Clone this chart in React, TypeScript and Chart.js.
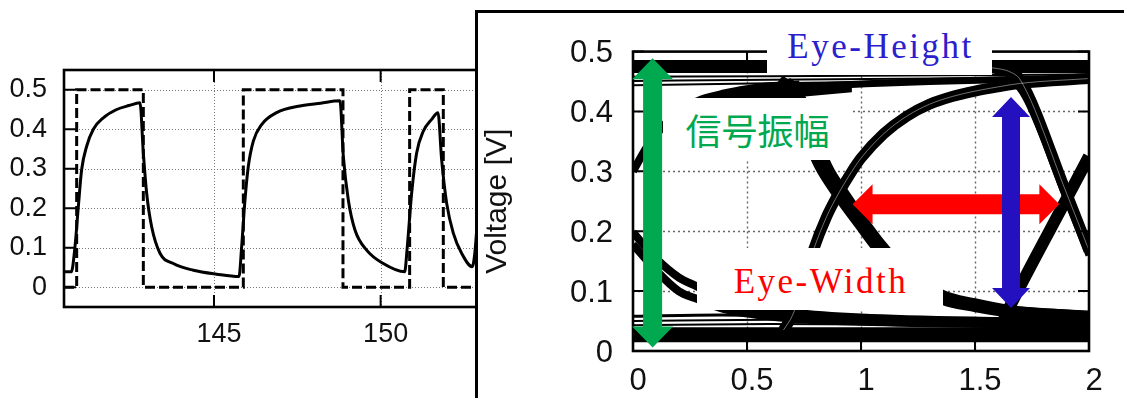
import React, { useEffect, useRef } from 'react';
import { Chart, registerables } from 'chart.js';

Chart.register(...registerables);

type P = [number, number];

// ---------------- Left chart: input (dashed) and response (solid) ----------------
const leftXTicks = [145, 150];
const leftYTicks = [0, 0.1, 0.2, 0.3, 0.4, 0.5];

const inputTime = [140.5, 140.88, 140.88, 142.88, 142.88, 145.88, 145.88, 148.87, 148.87, 150.87, 150.87, 151.88, 151.88, 152.88, 152.88, 153.5];
const inputVolt = [0, 0, 0.5, 0.5, 0, 0, 0.5, 0.5, 0, 0, 0.5, 0.5, 0, 0, 0.5, 0.5];

const outputTime = [
  140.5, 140.72, 140.83, 140.93, 141.03, 141.18, 141.38, 141.68, 142.08, 142.45, 142.78,
  142.88, 142.98, 143.13, 143.38, 143.78, 144.38, 145.08, 145.75,
  145.83, 145.93, 146.03, 146.18, 146.43, 146.88, 147.58, 148.2, 148.78,
  148.88, 149.03, 149.23, 149.58, 150.08, 150.72,
  150.8, 150.93, 151.08, 151.28, 151.53, 151.72,
  151.83, 151.98, 152.18, 152.43, 152.75,
  152.83, 152.93, 153.05, 153.2, 153.5,
];
const outputVolt = [
  0.039, 0.039, 0.103, 0.204, 0.298, 0.357, 0.4, 0.429, 0.45, 0.46, 0.467,
  0.34, 0.238, 0.153, 0.086, 0.06, 0.043, 0.033, 0.027,
  0.103, 0.221, 0.306, 0.37, 0.412, 0.442, 0.459, 0.466, 0.472,
  0.332, 0.221, 0.145, 0.094, 0.06, 0.039,
  0.103, 0.238, 0.34, 0.395, 0.425, 0.442,
  0.323, 0.213, 0.137, 0.086, 0.052,
  0.09, 0.2, 0.3, 0.36, 0.42,
];

// ---------------- Right chart: eye diagram ----------------
const eyeXTicks = [0, 0.5, 1, 1.5, 2];
const eyeYTicks = [0, 0.1, 0.2, 0.3, 0.4, 0.5];
const eyeXGrid = [0.5, 1, 1.5];
const eyeYGrid = [0.1, 0.2, 0.3, 0.4];

const eyeHighBand: P[] = [[0, 0.475], [2, 0.475]];
const eyeHighLine1: P[] = [[0, 0.458], [0.6, 0.459], [1.6, 0.461], [2, 0.462]];
const eyeHighLine2: P[] = [[0, 0.451], [0.6, 0.453], [1.6, 0.456], [2, 0.457]];
const eyeHighLine3: P[] = [[0, 0.444], [0.6, 0.447], [1.6, 0.452], [2, 0.454]];
const eyeHighSettle: P[] = [[0.55, 0.441], [0.73, 0.442], [1.0, 0.446], [1.3, 0.45], [1.6, 0.453], [2, 0.456]];
const eyeRiseWrap: P[] = [[0, 0.3], [0.06, 0.34], [0.12, 0.37], [0.17, 0.39], [0.22, 0.405], [0.3, 0.42], [0.4, 0.43], [0.5, 0.437], [0.6, 0.442], [0.73, 0.445]];
const eyeHighWedge: P[] = [[0.21, 0.398], [0.22, 0.409], [0.3, 0.423], [0.4, 0.432], [0.5, 0.438], [0.6, 0.443], [0.73, 0.446], [0.96, 0.45], [0.96, 0.432], [0.73, 0.424], [0.7, 0.398]];
const eyeRiseMain: P[] = [[0.66, 0.035], [0.7, 0.06], [0.745, 0.11], [0.79, 0.167], [0.85, 0.225], [0.9, 0.262], [0.96, 0.3], [1.0, 0.322], [1.1, 0.363], [1.2, 0.392], [1.3, 0.412], [1.4, 0.425], [1.5, 0.434], [1.6, 0.441], [1.7, 0.447], [2.0, 0.455]];
const eyeFallMain: P[] = [[0.64, 0.452], [0.68, 0.44], [0.72, 0.41], [0.78, 0.345], [0.82, 0.31], [0.9, 0.262], [1.0, 0.21], [1.075, 0.172], [1.2, 0.122], [1.36, 0.087], [1.5, 0.075], [1.65, 0.066], [2.0, 0.057]];
const eyeFallAlt: P[] = [[0.68, 0.452], [0.72, 0.44], [0.76, 0.41], [0.86, 0.31], [0.94, 0.262], [1.1, 0.178], [1.2, 0.137], [1.36, 0.097], [1.5, 0.083], [1.65, 0.072], [2.0, 0.062]];
const eyeFallEdge: P[] = [[1.56, 0.474], [1.66, 0.465], [1.7, 0.452], [1.9, 0.265], [2.0, 0.168]];
const eyeFallEdge2: P[] = [[1.6, 0.442], [1.67, 0.446], [1.72, 0.425], [1.9, 0.256], [2.0, 0.16]];
const eyeRiseEdge: P[] = [[1.56, 0.03], [1.62, 0.048], [1.65, 0.072], [1.91, 0.26], [2.0, 0.325]];
const eyeDecayA: P[] = [[0, 0.198], [0.1, 0.155], [0.2, 0.123], [0.28, 0.108], [0.4, 0.085], [0.55, 0.072], [0.7, 0.064], [1.0, 0.056], [1.6, 0.05], [2, 0.048]];
const eyeDecayB: P[] = [[0, 0.178], [0.1, 0.135], [0.2, 0.1], [0.28, 0.087], [0.4, 0.07], [0.55, 0.06], [0.7, 0.054], [1.0, 0.049], [1.6, 0.045], [2, 0.044]];
const eyeLowBand: P[] = [[0, 0.027], [2, 0.027]];
const eyeLowLine1: P[] = [[0, 0.043], [0.6, 0.045], [1.6, 0.043], [2, 0.042]];
const eyeLowLine2: P[] = [[0, 0.05], [0.6, 0.052], [1.6, 0.048], [2, 0.047]];
const eyeLowLine3: P[] = [[0, 0.058], [0.38, 0.06], [0.73, 0.058], [1.2, 0.052], [1.65, 0.047], [2, 0.046]];

// annotation arrows (data coordinates: start, end)
const amplitudeArrow: P[] = [[0.086, 0.489], [0.086, 0.006]];
const eyeWidthArrow: P[] = [[0.963, 0.245], [1.87, 0.245]];
const eyeHeightArrow: P[] = [[1.658, 0.424], [1.658, 0.072]];

// ---------------- styling tables ----------------
const eyeTraceStyle: { pts: P[]; w: number; hair?: boolean }[] = [
  { pts: eyeHighBand, w: 13 },
  { pts: eyeHighLine1, w: 2 },
  { pts: eyeHighLine2, w: 2 },
  { pts: eyeHighLine3, w: 2 },
  { pts: eyeHighSettle, w: 7 },
  { pts: eyeRiseWrap, w: 8 },
  { pts: eyeRiseMain, w: 11, hair: true },
  { pts: eyeFallMain, w: 12 },
  { pts: eyeFallAlt, w: 6 },
  { pts: eyeFallEdge, w: 11, hair: true },
  { pts: eyeFallEdge2, w: 7 },
  { pts: eyeRiseEdge, w: 12 },
  { pts: eyeDecayA, w: 8 },
  { pts: eyeDecayB, w: 8 },
  { pts: eyeLowBand, w: 15 },
  { pts: eyeLowLine1, w: 2 },
  { pts: eyeLowLine2, w: 2 },
  { pts: eyeLowLine3, w: 3 },
];

const arrowStyle = [
  { pts: amplitudeArrow, color: '#00A84F', shaft: 19, headW: 41, headL: 21 },
  { pts: eyeWidthArrow, color: '#FF0000', shaft: 20, headW: 40, headL: 20 },
  { pts: eyeHeightArrow, color: '#2410BE', shaft: 18, headW: 38, headL: 20 },
];

const FONT = "'Liberation Sans', Arial, Helvetica, sans-serif";

const zip = (xs: number[], ys: number[]) => xs.map((x, i) => ({ x, y: ys[i] }));
const toXY = (pts: P[]) => pts.map(([x, y]) => ({ x, y }));

function drawArrow(ctx: CanvasRenderingContext2D, x1: number, y1: number, x2: number, y2: number, shaft: number, headW: number, headL: number, color: string) {
  const dx = x2 - x1;
  const dy = y2 - y1;
  const len = Math.hypot(dx, dy);
  const ux = dx / len;
  const uy = dy / len;
  const nx = -uy;
  const ny = ux;
  const s = shaft / 2;
  const h = headW / 2;
  const pts: P[] = [
    [x1, y1],
    [x1 + ux * headL + nx * h, y1 + uy * headL + ny * h],
    [x1 + ux * headL + nx * s, y1 + uy * headL + ny * s],
    [x2 - ux * headL + nx * s, y2 - uy * headL + ny * s],
    [x2 - ux * headL + nx * h, y2 - uy * headL + ny * h],
    [x2, y2],
    [x2 - ux * headL - nx * h, y2 - uy * headL - ny * h],
    [x2 - ux * headL - nx * s, y2 - uy * headL - ny * s],
    [x1 + ux * headL - nx * s, y1 + uy * headL - ny * s],
    [x1 + ux * headL - nx * h, y1 + uy * headL - ny * h],
  ];
  ctx.fillStyle = color;
  ctx.beginPath();
  pts.forEach(([x, y], i) => (i ? ctx.lineTo(x, y) : ctx.moveTo(x, y)));
  ctx.closePath();
  ctx.fill();
}

type DecorOpts = {
  xGrid: number[];
  yGrid: number[];
  xTicks: number[];
  yTicks: number[];
  gridColor: string;
  gridDash: number[];
  gridWidth: number;
  tickLen: number;
  frameWidth: number;
  fills?: P[][];
  arrows?: typeof arrowStyle;
};

function makeDecor(o: DecorOpts) {
  return {
    id: 'decor',
    beforeDatasetsDraw(chart: any) {
      const { ctx, chartArea: a, scales } = chart;
      const xs = scales.x;
      const ys = scales.y;
      ctx.save();
      ctx.strokeStyle = o.gridColor;
      ctx.lineWidth = o.gridWidth;
      ctx.setLineDash(o.gridDash);
      ctx.beginPath();
      o.xGrid.forEach((v) => {
        const px = Math.round(xs.getPixelForValue(v)) + 0.5;
        ctx.moveTo(px, a.top);
        ctx.lineTo(px, a.bottom);
      });
      o.yGrid.forEach((v) => {
        const py = Math.round(ys.getPixelForValue(v)) + 0.5;
        ctx.moveTo(a.left, py);
        ctx.lineTo(a.right, py);
      });
      ctx.stroke();
      ctx.setLineDash([]);
      (o.fills || []).forEach((poly) => {
        ctx.fillStyle = '#000';
        ctx.beginPath();
        poly.forEach(([x, y], i) => {
          const px = xs.getPixelForValue(x);
          const py = ys.getPixelForValue(y);
          if (i) ctx.lineTo(px, py);
          else ctx.moveTo(px, py);
        });
        ctx.closePath();
        ctx.fill();
      });
      ctx.restore();
    },
    afterDatasetsDraw(chart: any) {
      const { ctx, chartArea: a, scales } = chart;
      const xs = scales.x;
      const ys = scales.y;
      ctx.save();
      ctx.strokeStyle = '#000';
      ctx.lineWidth = o.frameWidth;
      ctx.setLineDash([]);
      ctx.strokeRect(a.left, a.top, a.right - a.left, a.bottom - a.top);
      ctx.lineWidth = 2;
      ctx.beginPath();
      o.xTicks.forEach((v) => {
        const px = xs.getPixelForValue(v);
        ctx.moveTo(px, a.bottom);
        ctx.lineTo(px, a.bottom - o.tickLen);
        ctx.moveTo(px, a.top);
        ctx.lineTo(px, a.top + o.tickLen);
      });
      o.yTicks.forEach((v) => {
        const py = ys.getPixelForValue(v);
        ctx.moveTo(a.left, py);
        ctx.lineTo(a.left + o.tickLen, py);
        ctx.moveTo(a.right, py);
        ctx.lineTo(a.right - o.tickLen, py);
      });
      ctx.stroke();
      (o.arrows || []).forEach((ar) => {
        const [[x1, y1], [x2, y2]] = ar.pts;
        drawArrow(ctx, xs.getPixelForValue(x1), ys.getPixelForValue(y1), xs.getPixelForValue(x2), ys.getPixelForValue(y2), ar.shaft, ar.headW, ar.headL, ar.color);
      });
      ctx.restore();
    },
  };
}

function leftConfig(): any {
  return {
    type: 'line',
    data: {
      datasets: [
        { data: zip(outputTime, outputVolt), borderColor: '#000', borderWidth: 3, pointRadius: 0, cubicInterpolationMode: 'monotone', borderJoinStyle: 'round' },
        { data: zip(inputTime, inputVolt), borderColor: '#000', borderWidth: 3, borderDash: [10, 4], pointRadius: 0, tension: 0 },
      ],
    },
    options: {
      animation: false,
      responsive: false,
      events: [],
      layout: { padding: { left: 0, top: 70, right: 22.7, bottom: 0 } },
      plugins: { legend: { display: false }, tooltip: { enabled: false } },
      scales: {
        x: {
          type: 'linear',
          min: 140.5,
          max: 153.5,
          afterBuildTicks: (s: any) => { s.ticks = leftXTicks.map((v) => ({ value: v })); },
          afterFit: (s: any) => { s.height = 91; },
          grid: { display: false, drawTicks: false },
          border: { display: false },
          ticks: { padding: 11, labelOffset: 5, font: { size: 27, family: FONT }, color: '#111', maxRotation: 0, autoSkip: false, callback: (v: number) => String(v) },
        },
        y: {
          type: 'linear',
          min: -0.05,
          max: 0.55,
          afterBuildTicks: (s: any) => { s.ticks = leftYTicks.map((v) => ({ value: v })); },
          afterFit: (s: any) => { s.width = 64; },
          grid: { display: false, drawTicks: false },
          border: { display: false },
          ticks: { padding: 17, font: { size: 27, family: FONT }, color: '#111', autoSkip: false, callback: (v: number) => String(v) },
        },
      },
    },
    plugins: [
      makeDecor({ xGrid: leftXTicks, yGrid: leftYTicks, xTicks: leftXTicks, yTicks: leftYTicks, gridColor: '#777', gridDash: [1, 2], gridWidth: 1, tickLen: 12, frameWidth: 2.6 }),
    ],
  };
}

function rightConfig(): any {
  const black = eyeTraceStyle.map((t) => ({
    data: toXY(t.pts),
    borderColor: '#000',
    borderWidth: t.w,
    pointRadius: 0,
    cubicInterpolationMode: 'monotone',
    borderJoinStyle: 'round',
    borderCapStyle: 'butt',
    order: 1,
  }));
  const hairs = eyeTraceStyle.filter((t) => t.hair).map((t) => ({
    data: toXY(t.pts),
    borderColor: 'rgba(255,255,255,0.55)',
    borderWidth: 0.8,
    pointRadius: 0,
    cubicInterpolationMode: 'monotone',
    borderCapStyle: 'butt',
    order: 0,
  }));
  return {
    type: 'line',
    data: { datasets: [...black, ...hairs] },
    options: {
      animation: false,
      responsive: false,
      events: [],
      layout: { padding: { left: 0, top: 30, right: 35, bottom: 0 } },
      plugins: { legend: { display: false }, tooltip: { enabled: false } },
      scales: {
        x: {
          type: 'linear',
          min: 0,
          max: 2,
          afterBuildTicks: (s: any) => { s.ticks = eyeXTicks.map((v) => ({ value: v })); },
          afterFit: (s: any) => { s.height = 47; },
          grid: { display: false, drawTicks: false },
          border: { display: false },
          ticks: { padding: 12, labelOffset: 5, font: { size: 31, family: FONT }, color: '#111', maxRotation: 0, autoSkip: false, callback: (v: number) => String(v) },
        },
        y: {
          type: 'linear',
          min: 0,
          max: 0.5,
          afterBuildTicks: (s: any) => { s.ticks = eyeYTicks.map((v) => ({ value: v })); },
          afterFit: (s: any) => { s.width = 155; },
          grid: { display: false, drawTicks: false },
          border: { display: false },
          title: { display: true, text: 'Voltage [V]', font: { size: 30, family: FONT }, color: '#111', padding: { top: 2, bottom: 0 } },
          ticks: { padding: 20, labelOffset: 2, font: { size: 31, family: FONT }, color: '#111', autoSkip: false, callback: (v: number) => String(v) },
        },
      },
    },
    plugins: [
      makeDecor({ xGrid: eyeXGrid, yGrid: eyeYGrid, xTicks: eyeXTicks, yTicks: eyeYTicks, gridColor: '#666', gridDash: [2, 3], gridWidth: 1.4, tickLen: 11, frameWidth: 2.6, fills: [eyeHighWedge], arrows: arrowStyle }),
    ],
  };
}

const labelBox: React.CSSProperties = {
  position: 'absolute',
  background: '#fff',
  display: 'flex',
  alignItems: 'center',
  justifyContent: 'center',
  overflow: 'visible',
};

export default function App() {
  const leftRef = useRef<HTMLCanvasElement>(null);
  const rightRef = useRef<HTMLCanvasElement>(null);

  useEffect(() => {
    const c1 = new Chart(leftRef.current as HTMLCanvasElement, leftConfig());
    const c2 = new Chart(rightRef.current as HTMLCanvasElement, rightConfig());
    return () => {
      c1.destroy();
      c2.destroy();
    };
  }, []);

  const serifText: React.CSSProperties = {
    fontFamily: "'Liberation Serif', 'Times New Roman', serif",
    fontSize: 35,
    lineHeight: 1,
    letterSpacing: 2.5,
    whiteSpace: 'nowrap',
    display: 'inline-block',
    position: 'relative',
    top: 2,
    left: 1,
  };

  return (
    <div style={{ position: 'fixed', left: 0, top: 0, width: 1124, height: 398, background: '#fff', overflow: 'hidden' }}>
      <div style={{ position: 'absolute', left: 0, top: 0, width: 520, height: 398 }}>
        <canvas ref={leftRef} width={520} height={398} style={{ display: 'block' }} />
      </div>
      <div style={{ position: 'absolute', left: 475, top: 10, width: 700, height: 450, borderLeft: '3px solid #000', borderTop: '3px solid #000', background: '#fff', boxSizing: 'border-box' }} />
      <div style={{ position: 'absolute', left: 478, top: 13, width: 646, height: 385 }}>
        <canvas ref={rightRef} width={646} height={385} style={{ display: 'block' }} />
      </div>
      <div style={{ ...labelBox, left: 767, top: 13, width: 225, height: 62 }}>
        <span style={{ ...serifText, color: '#2A20CC' }}>Eye-Height</span>
      </div>
      <div style={{ ...labelBox, left: 663, top: 98, width: 189, height: 62 }}>
        <span style={{ fontFamily: "'Noto Sans CJK JP', 'Noto Sans CJK SC', sans-serif", fontSize: 36, lineHeight: 1, color: '#00A84F', whiteSpace: 'nowrap' }}>信号振幅</span>
      </div>
      <div style={{ ...labelBox, left: 697, top: 248, width: 246, height: 62 }}>
        <span style={{ ...serifText, color: '#FF0000' }}>Eye-Width</span>
      </div>
    </div>
  );
}
